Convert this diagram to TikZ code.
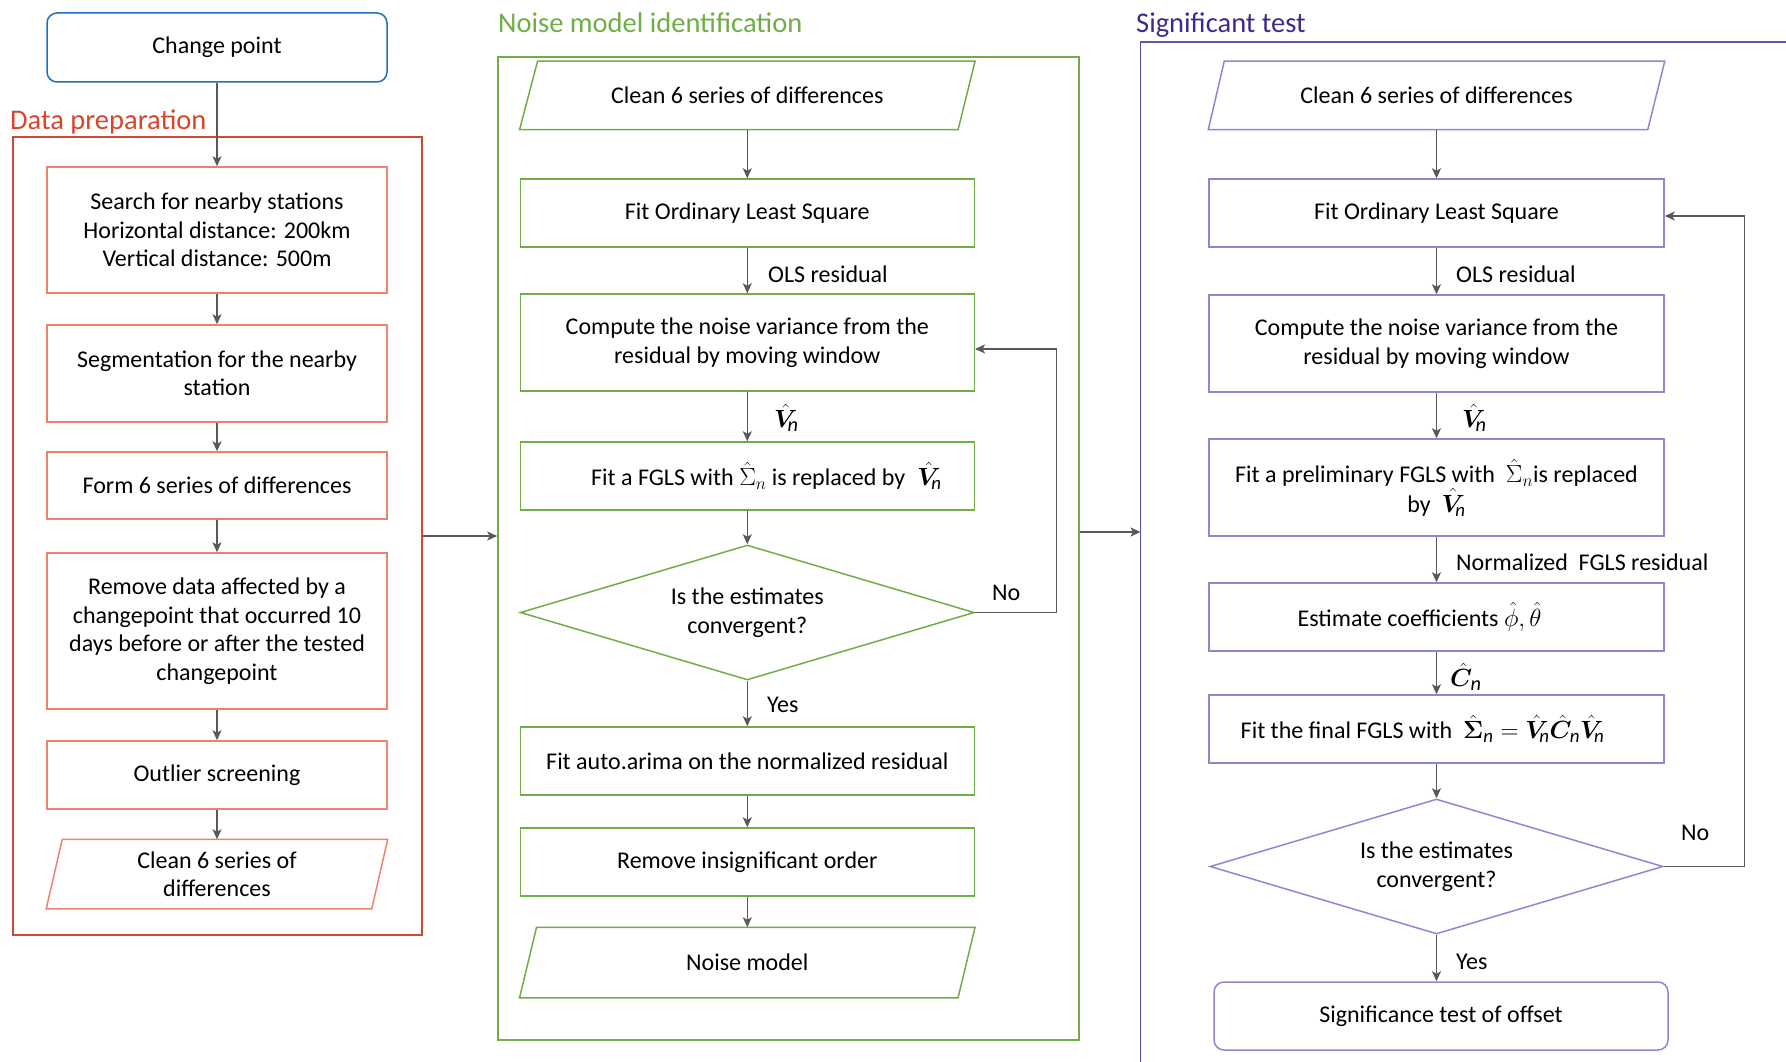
\documentclass[tikz,border=0pt]{standalone}
\usepackage{amsmath,bm}
\usepackage{fontspec}
\setmainfont{Carlito}
\usetikzlibrary{shapes.geometric,arrows.meta,calc}
\definecolor{cpblue}{RGB}{31,112,193}
\definecolor{redtitle}{RGB}{217,68,43}
\definecolor{redout}{RGB}{208,74,50}
\definecolor{redin}{RGB}{233,130,110}
\definecolor{grn}{RGB}{112,173,71}
\definecolor{purtitle}{RGB}{60,42,142}
\definecolor{purout}{RGB}{102,81,176}
\definecolor{purin}{RGB}{147,132,210}
\definecolor{arrgray}{RGB}{89,89,89}
\newcommand{\mbig}[1]{{\fontsize{27}{28.5}\selectfont$#1$}}
\newcommand{\Vn}{\hat{\bm V}_{\!\textit{n}}}
\newcommand{\Cn}{\hat{\bm C}_{\textit{n}}}
\begin{document}
\begin{tikzpicture}[x=1pt,y=-1pt,
  base/.style={align=center,inner sep=0pt,text=black,font=\fontsize{24}{28.5}\selectfont},
  lbox/.style={base,draw=redin,line width=1.5pt,minimum width=340pt},
  mbox/.style={base,draw=grn,line width=1.5pt,minimum width=454pt},
  rbox/.style={base,draw=purin,line width=1.5pt,minimum width=455pt},
  para/.style={draw=none},
  dia/.style={shape=diamond,aspect=3},
  arr/.style={draw=arrgray,line width=1.4pt,-{Stealth[length=10pt,width=9pt,inset=2.5pt]}},
  lab/.style={inner sep=0pt,anchor=west,text=black,font=\fontsize{24}{28.5}\selectfont},
  mathlab/.style={lab,font=\fontsize{29}{30}\selectfont},
  ttl/.style={inner sep=0pt,anchor=base west,font=\fontsize{28.5}{32}\selectfont}
]
\useasboundingbox (0,0) rectangle (1786,1062);

% ---------- titles ----------
\node[ttl,text=redtitle] (tdp) at (10,129.5) {Data preparation};
\node[ttl,text=grn] (tnm) at (498,33) {Noise model identification};
\node[ttl,text=purtitle] (tst) at (1136,33) {Significant test};

% ---------- outer frames ----------
\node[draw=redout,line width=1.6pt,minimum width=409pt,minimum height=798pt,inner sep=0pt] (dp) at (217.5,536) {};
\node[draw=grn,line width=1.6pt,minimum width=581pt,minimum height=983pt,inner sep=0pt] (nm) at (788.5,548.5) {};
\draw[draw=purout,line width=1.6pt] (1786,42) -- (1140.5,42) -- (1140.5,1062);
\coordinate (stL) at (1140.5,532);

% ---------- left column ----------
\node[lbox,draw=cpblue,rounded corners=10pt,minimum height=69pt] (cp) at (217,47.5) {Change point};
\node[lbox,minimum height=126pt] (s1) at (217,230) {Search for nearby stations\\Horizontal distance: 200km\\Vertical distance: 500m};
\node[lbox,minimum height=97pt] (s2) at (217,373.5) {Segmentation for the nearby\\station};
\node[lbox,minimum height=67pt] (s3) at (217,485.5) {Form 6 series of differences};
\node[lbox,minimum height=156pt] (s4) at (217,631) {Remove data affected by a\\changepoint that occurred 10\\days before or after the tested\\changepoint};
\node[lbox,minimum height=68pt] (s5) at (217,775) {Outlier screening};
\node[lbox,para,minimum height=68pt] (s6) at (217,874) {Clean 6 series of\\differences};
\draw[draw=redin,line width=1.5pt] (s6.south west) -- ($(s6.north west)+(16,0)$) -- (s6.north east) -- ($(s6.south east)+(-16,0)$) -- cycle;

\draw[arr] (cp) -- (s1);
\draw[arr] (s1) -- (s2);
\draw[arr] (s2) -- (s3);
\draw[arr] (s3) -- (s4);
\draw[arr] (s4) -- (s5);
\draw[arr] (s5) -- (s6);

% ---------- middle column ----------
\node[mbox,para,minimum height=67pt] (m1) at (747.3,95.5) {Clean 6 series of differences};
\draw[draw=grn,line width=1.5pt] (m1.south west) -- ($(m1.north west)+(18,0)$) -- (m1.north east) -- ($(m1.south east)+(-17,0)$) -- cycle;
\node[mbox,minimum height=68pt] (m2) at (747.3,213) {Fit Ordinary Least Square};
\node[mbox,minimum height=97pt] (m3) at (747.3,342.5) {Compute the noise variance from the\\residual by moving window};
\node[mbox,minimum height=68pt] (m4) at (747.3,476) {\hspace*{38pt}Fit a FGLS with \mbig{\hat{\Sigma}_n} is replaced by\enspace\mbig{\Vn}};
\node[mbox,dia,minimum width=454pt,minimum height=135pt] (m5) at (747.3,612.5) {Is the estimates\\convergent?};
\node[mbox,minimum height=68pt] (m6) at (747.3,761) {Fit auto.arima on the normalized residual};
\node[mbox,minimum height=68pt] (m7) at (747.3,862) {Remove insignificant order};
\node[mbox,para,minimum height=69pt] (m8) at (747.3,962.5) {Noise model};
\draw[draw=grn,line width=1.5pt] (m8.south west) -- ($(m8.north west)+(17,0)$) -- (m8.north east) -- ($(m8.south east)+(-17,0)$) -- cycle;

\draw[arr] (m1) -- (m2);
\draw[arr] (m2) -- (m3);
\draw[arr] (m3) -- (m4);
\draw[arr] (m4) -- (m5);
\draw[arr] (m5) -- (m6);
\draw[arr] (m6) -- (m7);
\draw[arr] (m7) -- (m8);
\coordinate (fbm) at (1056.5,349);
\draw[arr] (m5.east) -| (fbm) -- (m3.east |- fbm);

\node[lab] (lm1) at (768,274) {OLS residual};
\node[mathlab] (lm2) at (774,418) {$\Vn$};
\node[lab] (lm3) at (992,593) {No};
\node[lab] (lm4) at (767,705) {Yes};

% ---------- right column ----------
\node[rbox,para,minimum height=67pt] (r1) at (1436.5,95.5) {Clean 6 series of differences};
\draw[draw=purin,line width=1.5pt] (r1.south west) -- ($(r1.north west)+(16,0)$) -- (r1.north east) -- ($(r1.south east)+(-17,0)$) -- cycle;
\node[rbox,minimum height=68pt] (r2) at (1436.5,213) {Fit Ordinary Least Square};
\node[rbox,minimum height=97pt] (r3) at (1436.5,343.5) {Compute the noise variance from the\\residual by moving window};
\node[rbox,minimum height=97pt,font=\fontsize{24}{30}\selectfont] (r4) at (1436.5,487.5) {Fit a preliminary FGLS with\ \ \mbig{\hat{\Sigma}_n}is replaced\\by\ \ \mbig{\Vn}};
\node[rbox,minimum height=68pt] (r5) at (1436.5,617) {\hspace*{-34pt}Estimate coefficients \mbig{\hat{\phi}, \hat{\theta}}};
\node[rbox,minimum height=68pt] (r6) at (1436.5,729) {\hspace*{-28pt}Fit the final FGLS with\ \ \mbig{\hat{\bm\Sigma}_{\textit{n}} = \Vn\Cn\Vn}};
\node[rbox,dia,minimum width=453pt,minimum height=135pt] (r7) at (1436.5,866.5) {Is the estimates\\convergent?};
\node[rbox,rounded corners=10pt,minimum width=454pt,minimum height=68pt] (r8) at (1441,1016) {Significance test of offset};

\draw[arr] (r1) -- (r2);
\draw[arr] (r2) -- (r3);
\draw[arr] (r3) -- (r4);
\draw[arr] (r4) -- (r5);
\draw[arr] (r5) -- (r6);
\draw[arr] (r6) -- (r7);
\draw[arr] (r7) -- (r7.south |- r8.north);
\coordinate (fbr) at (1744.5,216);
\draw[arr] (r7.east) -| (fbr) -- (r2.east |- fbr);

\node[lab] (lr1) at (1456,274) {OLS residual};
\node[mathlab] (lr2) at (1462,418) {$\Vn$};
\node[lab] (lr3) at (1456,562) {Normalized\ \ FGLS residual};
\node[mathlab] (lr4) at (1450,677) {$\Cn$};
\node[lab] (lr5) at (1681,833) {No};
\node[lab] (lr6) at (1456,962) {Yes};

% ---------- panel connectors ----------
\draw[arr] (dp.east) -- (nm.west |- dp.east);
\draw[arr] (nm.east |- stL) -- (stL);
\end{tikzpicture}
\end{document}
